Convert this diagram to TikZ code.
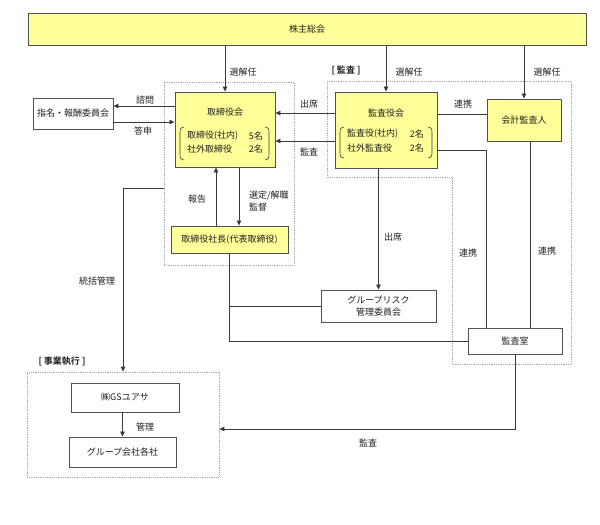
\documentclass[tikz,border=0pt]{standalone}
\usepackage{fontspec}
\setmainfont{Noto Sans CJK JP}[BoldFont={Noto Sans CJK JP Bold}]
\usetikzlibrary{arrows.meta,calc}
\definecolor{boxyellow}{HTML}{FFFF99}
\definecolor{edgecol}{HTML}{505050}
\definecolor{wirecol}{HTML}{3A3A3A}
\definecolor{grpcol}{HTML}{A8A8A8}
\definecolor{txtcol}{HTML}{202020}
\tikzset{
  every node/.style={font=\fontsize{9}{12}\selectfont, inner sep=0pt, text=txtcol},
  ybox/.style={draw=edgecol, line width=0.9pt, fill=boxyellow, rectangle},
  wbox/.style={draw=edgecol, line width=0.9pt, fill=white, rectangle},
  grpbox/.style={draw=grpcol, densely dotted, line width=0.8pt, rectangle},
  wire/.style={draw=wirecol, line width=0.8pt},
  arr/.style={wire, -{Triangle[length=5pt,width=4.5pt]}},
  brk/.style={draw=wirecol, line width=0.6pt},
  bold/.style={font=\fontsize{9}{12}\selectfont\bfseries}
}
\begin{document}
\begin{tikzpicture}[x=1pt,y=-1pt]
\useasboundingbox (0,0) rectangle (600,525);

% group outlines
\node[grpbox, minimum width=130pt, minimum height=183pt] (boardgrp) at (229,173.5) {};
\node[grpbox, minimum width=192pt, minimum height=105pt] (execgrp) at (123,424.5) {};
\draw[grpbox] (327,81) -- (571,81) -- (571,364) -- (452,364) -- (452,177) -- (327,177) -- cycle;

% boxes
\node[ybox, minimum width=558pt, minimum height=32pt] (sh) at (307,29) {株主総会};
\node[ybox, minimum width=100pt, minimum height=75pt] (board) at (225,129.5) {};
\node[wbox, minimum width=80pt, minimum height=31pt] (nom) at (73,113.5) {指名・報酬委員会};
\node[ybox, minimum width=117pt, minimum height=27pt] (pres) at (229.5,239.5) {取締役社長(代表取締役)};
\node[ybox, minimum width=102pt, minimum height=76pt] (kan) at (386,130) {};
\node[ybox, minimum width=74pt, minimum height=42pt] (aud) at (524,120) {会計監査人};
\node[wbox, minimum width=115pt, minimum height=32pt, align=center] (risk) at (378.5,306) {グループリスク\\管理委員会};
\node[wbox, minimum width=94pt, minimum height=26pt] (office) at (515,341) {監査室};
\node[wbox, minimum width=108pt, minimum height=29pt] (gs) at (125,397.5) {㈱GSユアサ};
\node[wbox, minimum width=107pt, minimum height=30pt] (grpco) at (122.5,452) {グループ会社各社};

% contents of board
\node (boardt) at (225,112) {取締役会};
\node[anchor=west] (b1) at (187,136) {取締役(社内)};
\node[anchor=east] (b1n) at (263,136) {5名};
\node[anchor=west] (b2) at (187,149) {社外取締役};
\node[anchor=east] (b2n) at (263,149) {2名};
\draw[brk] (184,127) .. controls (180.5,127.5) and (180,129) .. (180,133) -- (180,154) .. controls (180,158) and (180.5,159.5) .. (184,160);
\draw[brk] (265,127) .. controls (268.5,127.5) and (269,129) .. (269,133) -- (269,154) .. controls (269,158) and (268.5,159.5) .. (265,160);

% contents of kansayaku
\node (kant) at (386,113) {監査役会};
\node[anchor=west] (k1) at (347,134) {監査役(社内)};
\node[anchor=east] (k1n) at (424,134) {2名};
\node[anchor=west] (k2) at (347,148) {社外監査役};
\node[anchor=east] (k2n) at (424,148) {2名};
\draw[brk] (344,127) .. controls (340.5,127.5) and (340,129) .. (340,133) -- (340,152) .. controls (340,156) and (340.5,157.5) .. (344,158);
\draw[brk] (428,127) .. controls (431.5,127.5) and (432,129) .. (432,133) -- (432,152) .. controls (432,156) and (431.5,157.5) .. (428,158);

% connectors from shareholders
\draw[arr] (board.north |- sh.south) -- (board.north);
\draw[arr] (kan.north |- sh.south) -- (kan.north);
\draw[arr] (aud.north |- sh.south) -- (aud.north);

% board <-> nomination
\draw[arr] (board.west |- 0,106) -- (nom.east |- 0,106);
\draw[arr] (nom.east |- 0,122) -- (board.west |- 0,122);

% kansayaku -> board
\draw[arr] (kan.west |- 0,113) -- (board.east |- 0,113);
\draw[arr] (kan.west |- 0,141) -- (board.east |- 0,141);

% board <-> president
\draw[arr] (pres.north -| 216,0) -- (board.south -| 216,0);
\draw[arr] (board.south -| 239,0) -- (pres.north -| 239,0);

% overall management
\draw[arr] (boardgrp.west |- 0,188) -| (execgrp.north);
\draw[arr] (gs.south -| grpco.north) -- (grpco.north);

% president lines
\draw[wire] (pres.south) -- (pres.south |- office.west) -- (office.west);
\draw[wire] (pres.south |- risk.west) -- (risk.west);

% kansayaku -> risk
\draw[arr] (risk.north |- kan.south) -- (risk.north);

% cooperation
\draw[wire] (kan.east |- 0,114) -- (aud.west |- 0,114);
\draw[wire] (kan.east |- 0,150) -| (office.north -| 486,0);
\draw[wire] (aud.south -| 530,0) -- (office.north -| 530,0);

% audit to exec
\draw[arr] (office.south) |- (execgrp.east |- 0,429);

% labels
\node (l1) at (243,72) {選解任};
\node (l2) at (409,72) {選解任};
\node (l3) at (547,72) {選解任};
\node[bold] (lkansa) at (346,70) {[ 監査 ]};
\node[bold] (lexec) at (62,361) {[ 事業執行 ]};
\node (l4) at (145,100) {諮問};
\node (l5) at (143,131) {答申};
\node (l6) at (309,104) {出席};
\node (l7) at (309,152) {監査};
\node (l8) at (197,199) {報告};
\node[anchor=west, align=left] (l9) at (249,201) {選定/解職\\監督};
\node (l10) at (97,281) {統括管理};
\node (l11) at (393,237) {出席};
\node (l12) at (463,104) {連携};
\node (l13) at (468,253) {連携};
\node (l14) at (547,251) {連携};
\node (l15) at (145,427) {管理};
\node (l16) at (368,443) {監査};
\end{tikzpicture}
\end{document}
